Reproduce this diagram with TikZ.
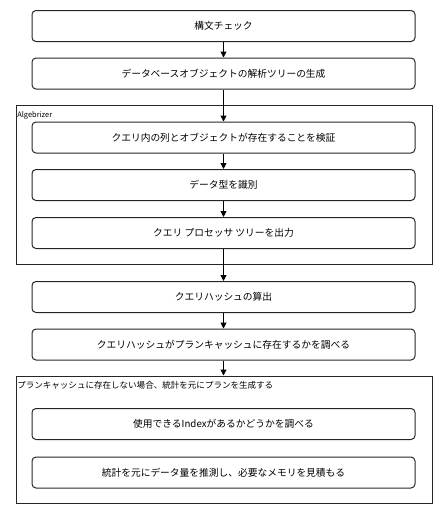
\documentclass[tikz,border=0pt]{standalone}
\usepackage{fontspec}
\setmainfont{Noto Sans CJK JP}
\usetikzlibrary{arrows.meta}
\tikzset{
  stepbox/.style={draw=black!85, line width=0.75pt, rounded corners=3pt, minimum width=383*0.75pt, minimum height=31*0.75pt, inner sep=0pt, font=\fontsize{7.3pt}{9pt}\selectfont},
  groupbox/.style={draw=black!85, line width=0.75pt, minimum width=416*0.75pt, inner sep=0pt},
  grouplabel/.style={anchor=north west, inner sep=0pt, font=\fontsize{6.4pt}{8pt}\selectfont},
  flow/.style={draw=black, line width=0.75pt, -{Triangle[length=4.5pt,width=4.5pt]}}
}
\begin{document}
\begin{tikzpicture}[x=0.75pt,y=-0.75pt]
\useasboundingbox (0,0) rectangle (442,507);
\node[groupbox, minimum height=159*0.75pt] (g1) at (224,184.5) {};
\node[groupbox, minimum height=127*0.75pt] (g2) at (224,439.5) {};
\node[grouplabel, font=\fontsize{5.6pt}{7pt}\selectfont] (g1l) at (17,111) {Algebrizer};
\node[grouplabel] (g2l) at (17,381) {プランキャッシュに存在しない場合、統計を元にプランを生成する};
\node[stepbox] (b1) at (223.5,26) {構文チェック};
\node[stepbox] (b2) at (223.5,73.5) {データベースオブジェクトの解析ツリーの生成};
\node[stepbox] (b3) at (223.5,137.5) {クエリ内の列とオブジェクトが存在することを検証};
\node[stepbox] (b4) at (223.5,185) {データ型を識別};
\node[stepbox] (b5) at (223.5,233) {クエリ プロセッサ ツリーを出力};
\node[stepbox] (b6) at (223.5,297) {クエリハッシュの算出};
\node[stepbox] (b7) at (223.5,344.5) {クエリハッシュがプランキャッシュに存在するかを調べる};
\node[stepbox] (b8) at (223.5,424) {使用できるIndexがあるかどうかを調べる};
\node[stepbox] (b9) at (223.5,472.5) {統計を元にデータ量を推測し、必要なメモリを見積もる};
\draw[flow] (b1) -- (b2);
\draw[flow] (b2) -- (b3);
\draw[flow] (b3) -- (b4);
\draw[flow] (b4) -- (b5);
\draw[flow] (b5) -- (b6);
\draw[flow] (b6) -- (b7);
\draw[flow] (b7) -- (b7 |- g2.north);
\end{tikzpicture}
\end{document}
